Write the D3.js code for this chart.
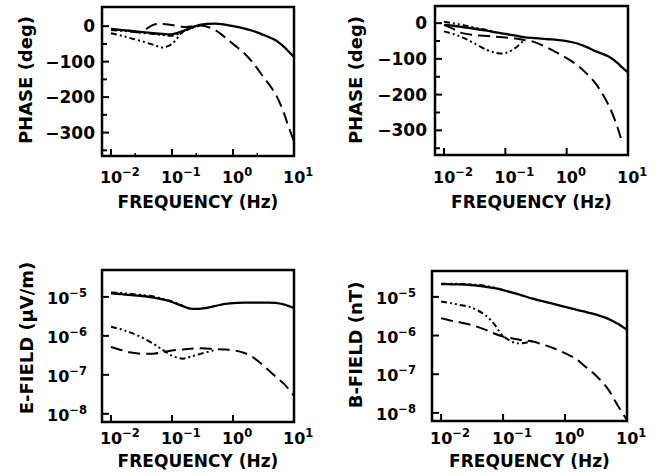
<!DOCTYPE html>
<html>
<head>
<meta charset="utf-8">
<script src="https://cdn.jsdelivr.net/npm/d3@7"></script>
<style>
  body { margin: 0; background: #fff; }
  text { font-family: "DejaVu Sans", sans-serif; font-weight: bold; fill: #000; }
</style>
</head>
<body>
<div id="chart"></div>
<script>
const W = 657, H = 476;

// common frequency grid (Hz)
const FREQ = [0.01, 0.015, 0.02, 0.03, 0.05, 0.07, 0.1, 0.15, 0.2, 0.3, 0.5, 0.7, 1, 1.5, 2, 3, 5, 7, 8, 10];

// panel 1 : phase (deg)
const p1Solid   = [-8, -11, -13, -16, -20, -22, -23, -14, -5, 4, 7, 5, 0, -6, -12, -23, -40, -60, -70, -87];
const p1Dashed  = [-9, -11, -13, -17, 4, 6, 3, -2, -1, 2, -10, -28, -50, -75, -98, -138, -192, -250, -280, -325];
const p1DashDotA = [-11, -13, -15, -18, -22, -25, -27, -17, -6, 4, null, null, null, null, null, null, null, null, null, null];
const p1DashDotB = [-20, -27, -33, -41, -53, -60, -50, -16, -7, 3, null, null, null, null, null, null, null, null, null, null];

// panel 2 : phase (deg)
const p2Solid   = [-5, -8, -11, -15, -21, -26, -30, -35, -39, -42, -45, -47, -50, -57, -65, -79, -95, -114, -124, -138];
const p2Dashed  = [-5, -18, -28, -33, -36, -38, -40, -43, -47, -53, -70, -83, -98, -118, -137, -170, -235, -300, -335, null];
const p2DashDotA = [4, -1, -5, -12, -19, -25, null, null, null, null, null, null, null, null, null, null, null, null, null, null];
const p2DashDotB = [-23, -32, -40, -55, -75, -83, -84, -68, -48, null, null, null, null, null, null, null, null, null, null, null];

// panel 3 : E-field (uV/m)
const p3Solid   = [1.24e-5, 1.18e-5, 1.12e-5, 1.07e-5, 9.6e-6, 8.6e-6, 7.4e-6, 5.8e-6, 5.0e-6, 5.0e-6, 5.8e-6, 6.5e-6, 6.9e-6, 7.1e-6, 7.1e-6, 7.1e-6, 7.0e-6, 6.3e-6, 5.9e-6, 5.2e-6];
const p3Dashed  = [5.2e-7, 4.3e-7, 3.8e-7, 3.5e-7, 3.5e-7, 3.8e-7, 4.2e-7, 4.5e-7, 4.7e-7, 4.8e-7, 4.6e-7, 4.5e-7, 4.3e-7, 3.7e-7, 3.0e-7, 1.85e-7, 9.0e-8, 5.7e-8, 4.5e-8, 2.9e-8];
const p3DashDotA = [1.3e-5, 1.25e-5, 1.2e-5, 1.13e-5, 1.02e-5, 9.0e-6, 7.6e-6, 5.9e-6, null, null, null, null, null, null, null, null, null, null, null, null];
const p3DashDotB = [1.72e-6, 1.45e-6, 1.25e-6, 9.6e-7, 6.2e-7, 4.4e-7, 3.1e-7, 2.6e-7, 2.9e-7, 3.5e-7, 4.3e-7, null, null, null, null, null, null, null, null, null];

// panel 4 : B-field (nT)
const p4Solid   = [2.14e-5, 2.12e-5, 2.1e-5, 2.03e-5, 1.85e-5, 1.7e-5, 1.5e-5, 1.25e-5, 1.1e-5, 9.0e-6, 7.3e-6, 6.4e-6, 5.5e-6, 4.7e-6, 4.2e-6, 3.6e-6, 2.7e-6, 2.05e-6, 1.8e-6, 1.4e-6];
const p4Dashed  = [2.8e-6, 2.4e-6, 2.2e-6, 1.9e-6, 1.45e-6, 1.15e-6, 9.5e-7, 8.3e-7, 7.6e-7, 7.0e-7, 5.5e-7, 4.5e-7, 3.5e-7, 2.5e-7, 1.7e-7, 1.0e-7, 4.0e-8, 1.6e-8, 1.15e-8, 6.5e-9];
const p4DashDotA = [2.2e-5, 2.2e-5, 2.17e-5, 2.1e-5, 1.95e-5, 1.75e-5, 1.52e-5, null, null, null, null, null, null, null, null, null, null, null, null, null];
const p4DashDotB = [7.6e-6, 6.8e-6, 6.2e-6, 5.4e-6, 3.5e-6, 2.1e-6, 9.8e-7, 6.6e-7, 6.3e-7, 7.2e-7, null, null, null, null, null, null, null, null, null, null];

// tick labels
const xDecades = [0.01, 0.1, 1, 10];
const xExp = ["−2", "−1", "0", "1"];
const phaseMajor = [0, -100, -200, -300];
const phaseMinor = [-50, -150, -250, -350];
const phaseLabels = ["0", "−100", "−200", "−300"];
const fieldDecades = [1e-5, 1e-6, 1e-7, 1e-8];
const fieldExp = ["−5", "−6", "−7", "−8"];

const svg = d3.select("#chart").append("svg")
    .attr("width", W)
    .attr("height", H);

const STYLES = {
    solid: null,
    dashed: "12,6",
    dashdot: "6,3,2,3,2,3"
};

function drawPanel(cfg, idx) {
    const x = d3.scaleLog()
        .domain([Math.pow(10, -2.147), 10])
        .range([cfg.left, cfg.right]);

    const y = cfg.log
        ? d3.scaleLog().domain(cfg.yDomain).range([cfg.bottom, cfg.top])
        : d3.scaleLinear().domain(cfg.yDomain).range([cfg.bottom, cfg.top]);

    const g = svg.append("g");

    const clipId = "clip" + idx;
    svg.append("clipPath").attr("id", clipId)
        .append("rect")
        .attr("x", cfg.left).attr("y", cfg.top)
        .attr("width", cfg.right - cfg.left)
        .attr("height", cfg.bottom - cfg.top);

    const line = d3.line()
        .defined(d => d[1] != null)
        .x(d => x(d[0]))
        .y(d => y(d[1]))
        .curve(d3.curveCatmullRom.alpha(0.5));

    cfg.series.forEach(s => {
        const pts = FREQ.map((f, i) => [f, s.values[i]]);
        g.append("path")
            .attr("clip-path", `url(#${clipId})`)
            .attr("d", line(pts))
            .attr("fill", "none")
            .attr("stroke", "#000")
            .attr("stroke-width", s.style === "solid" ? 2.3 : 2)
            .attr("stroke-dasharray", STYLES[s.style]);
    });

    // frame
    g.append("rect")
        .attr("x", cfg.left).attr("y", cfg.top)
        .attr("width", cfg.right - cfg.left)
        .attr("height", cfg.bottom - cfg.top)
        .attr("fill", "none")
        .attr("stroke", "#000")
        .attr("stroke-width", 2.5);

    // x ticks (inside, from bottom edge)
    g.selectAll(".xt").data(xDecades).enter().append("line")
        .attr("x1", d => x(d)).attr("x2", d => x(d))
        .attr("y1", cfg.bottom).attr("y2", cfg.bottom - 7)
        .attr("stroke", "#000").attr("stroke-width", 2);

    if (cfg.xMinor) {
        g.selectAll(".xm").data(cfg.xMinor).enter().append("line")
            .attr("x1", d => x(d)).attr("x2", d => x(d))
            .attr("y1", cfg.bottom).attr("y2", cfg.bottom - 3)
            .attr("stroke", "#000").attr("stroke-width", 1.5);
    }

    // x tick labels: "10" centred on the tick, exponent raised
    xDecades.forEach((d, i) => {
        const t = g.append("text")
            .attr("x", x(d) - 11)
            .attr("y", cfg.xLabelY)
            .style("font-size", "16px");
        t.append("tspan").text("10");
        t.append("tspan")
            .attr("dy", -7)
            .style("font-size", "11.5px")
            .text(xExp[i]);
    });

    g.append("text")
        .attr("x", (cfg.left + cfg.right) / 2)
        .attr("y", cfg.xTitleY)
        .attr("text-anchor", "middle")
        .style("font-size", "17px")
        .text("FREQUENCY (Hz)");

    // y ticks and labels
    if (cfg.log) {
        g.selectAll(".yt").data(fieldDecades).enter().append("line")
            .attr("x1", cfg.left).attr("x2", cfg.left + 7)
            .attr("y1", d => y(d)).attr("y2", d => y(d))
            .attr("stroke", "#000").attr("stroke-width", 2);

        fieldDecades.forEach((d, i) => {
            const t = g.append("text")
                .attr("x", cfg.left - cfg.yLabelGap)
                .attr("y", y(d) + 7)
                .attr("text-anchor", "end")
                .style("font-size", "16px");
            t.append("tspan").text("10");
            t.append("tspan")
                .attr("dy", -7)
                .style("font-size", "11.5px")
                .text(fieldExp[i]);
        });
    } else {
        g.selectAll(".yt").data(phaseMajor).enter().append("line")
            .attr("x1", cfg.left).attr("x2", cfg.left + 7)
            .attr("y1", d => y(d)).attr("y2", d => y(d))
            .attr("stroke", "#000").attr("stroke-width", 2);

        g.selectAll(".ym").data(phaseMinor).enter().append("line")
            .attr("x1", cfg.left).attr("x2", cfg.left + 5)
            .attr("y1", d => y(d)).attr("y2", d => y(d))
            .attr("stroke", "#000").attr("stroke-width", 2);

        g.selectAll(".yl").data(phaseMajor).enter().append("text")
            .attr("x", cfg.left - cfg.yLabelGap)
            .attr("y", d => y(d) + 6)
            .attr("text-anchor", "end")
            .style("font-size", "17px")
            .text((d, i) => phaseLabels[i]);
    }

    g.append("text")
        .attr("transform", `translate(${cfg.yTitleX}, ${cfg.yTitleY}) rotate(-90)`)
        .attr("text-anchor", "middle")
        .style("font-size", "18px")
        .text(cfg.yTitle);
}

const panels = [
    {
        left: 102, right: 294, top: 7, bottom: 156,
        yDomain: [-366, 54], log: false,
        xLabelY: 183, xTitleY: 208, yLabelGap: 7,
        yTitle: "PHASE (deg)", yTitleX: 32, yTitleY: 80,
        xMinor: [0.025, 0.25, 2.5],
        series: [
            { values: p1Solid, style: "solid" },
            { values: p1Dashed, style: "dashed" },
            { values: p1DashDotA, style: "dashdot" },
            { values: p1DashDotB, style: "dashdot" }
        ]
    },
    {
        left: 435, right: 628, top: 6, bottom: 155,
        yDomain: [-369, 48], log: false,
        xLabelY: 183, xTitleY: 208, yLabelGap: 8,
        yTitle: "PHASE (deg)", yTitleX: 362, yTitleY: 80,
        series: [
            { values: p2Solid, style: "solid" },
            { values: p2Dashed, style: "dashed" },
            { values: p2DashDotA, style: "dashdot" },
            { values: p2DashDotB, style: "dashdot" }
        ]
    },
    {
        left: 102, right: 294, top: 270, bottom: 422,
        yDomain: [Math.pow(10, -8.21), Math.pow(10, -4.31)], log: true,
        xLabelY: 444, xTitleY: 467, yLabelGap: 15,
        yTitle: "E-FIELD (μV/m)", yTitleX: 33, yTitleY: 338,
        series: [
            { values: p3Solid, style: "solid" },
            { values: p3Dashed, style: "dashed" },
            { values: p3DashDotA, style: "dashdot" },
            { values: p3DashDotB, style: "dashdot" }
        ]
    },
    {
        left: 432, right: 627, top: 271, bottom: 421,
        yDomain: [Math.pow(10, -8.21), Math.pow(10, -4.33)], log: true,
        xLabelY: 444, xTitleY: 467, yLabelGap: 16,
        yTitle: "B-FIELD (nT)", yTitleX: 362, yTitleY: 345,
        series: [
            { values: p4Solid, style: "solid" },
            { values: p4Dashed, style: "dashed" },
            { values: p4DashDotA, style: "dashdot" },
            { values: p4DashDotB, style: "dashdot" }
        ]
    }
];

panels.forEach((p, i) => drawPanel(p, i));
</script>
</body>
</html>
